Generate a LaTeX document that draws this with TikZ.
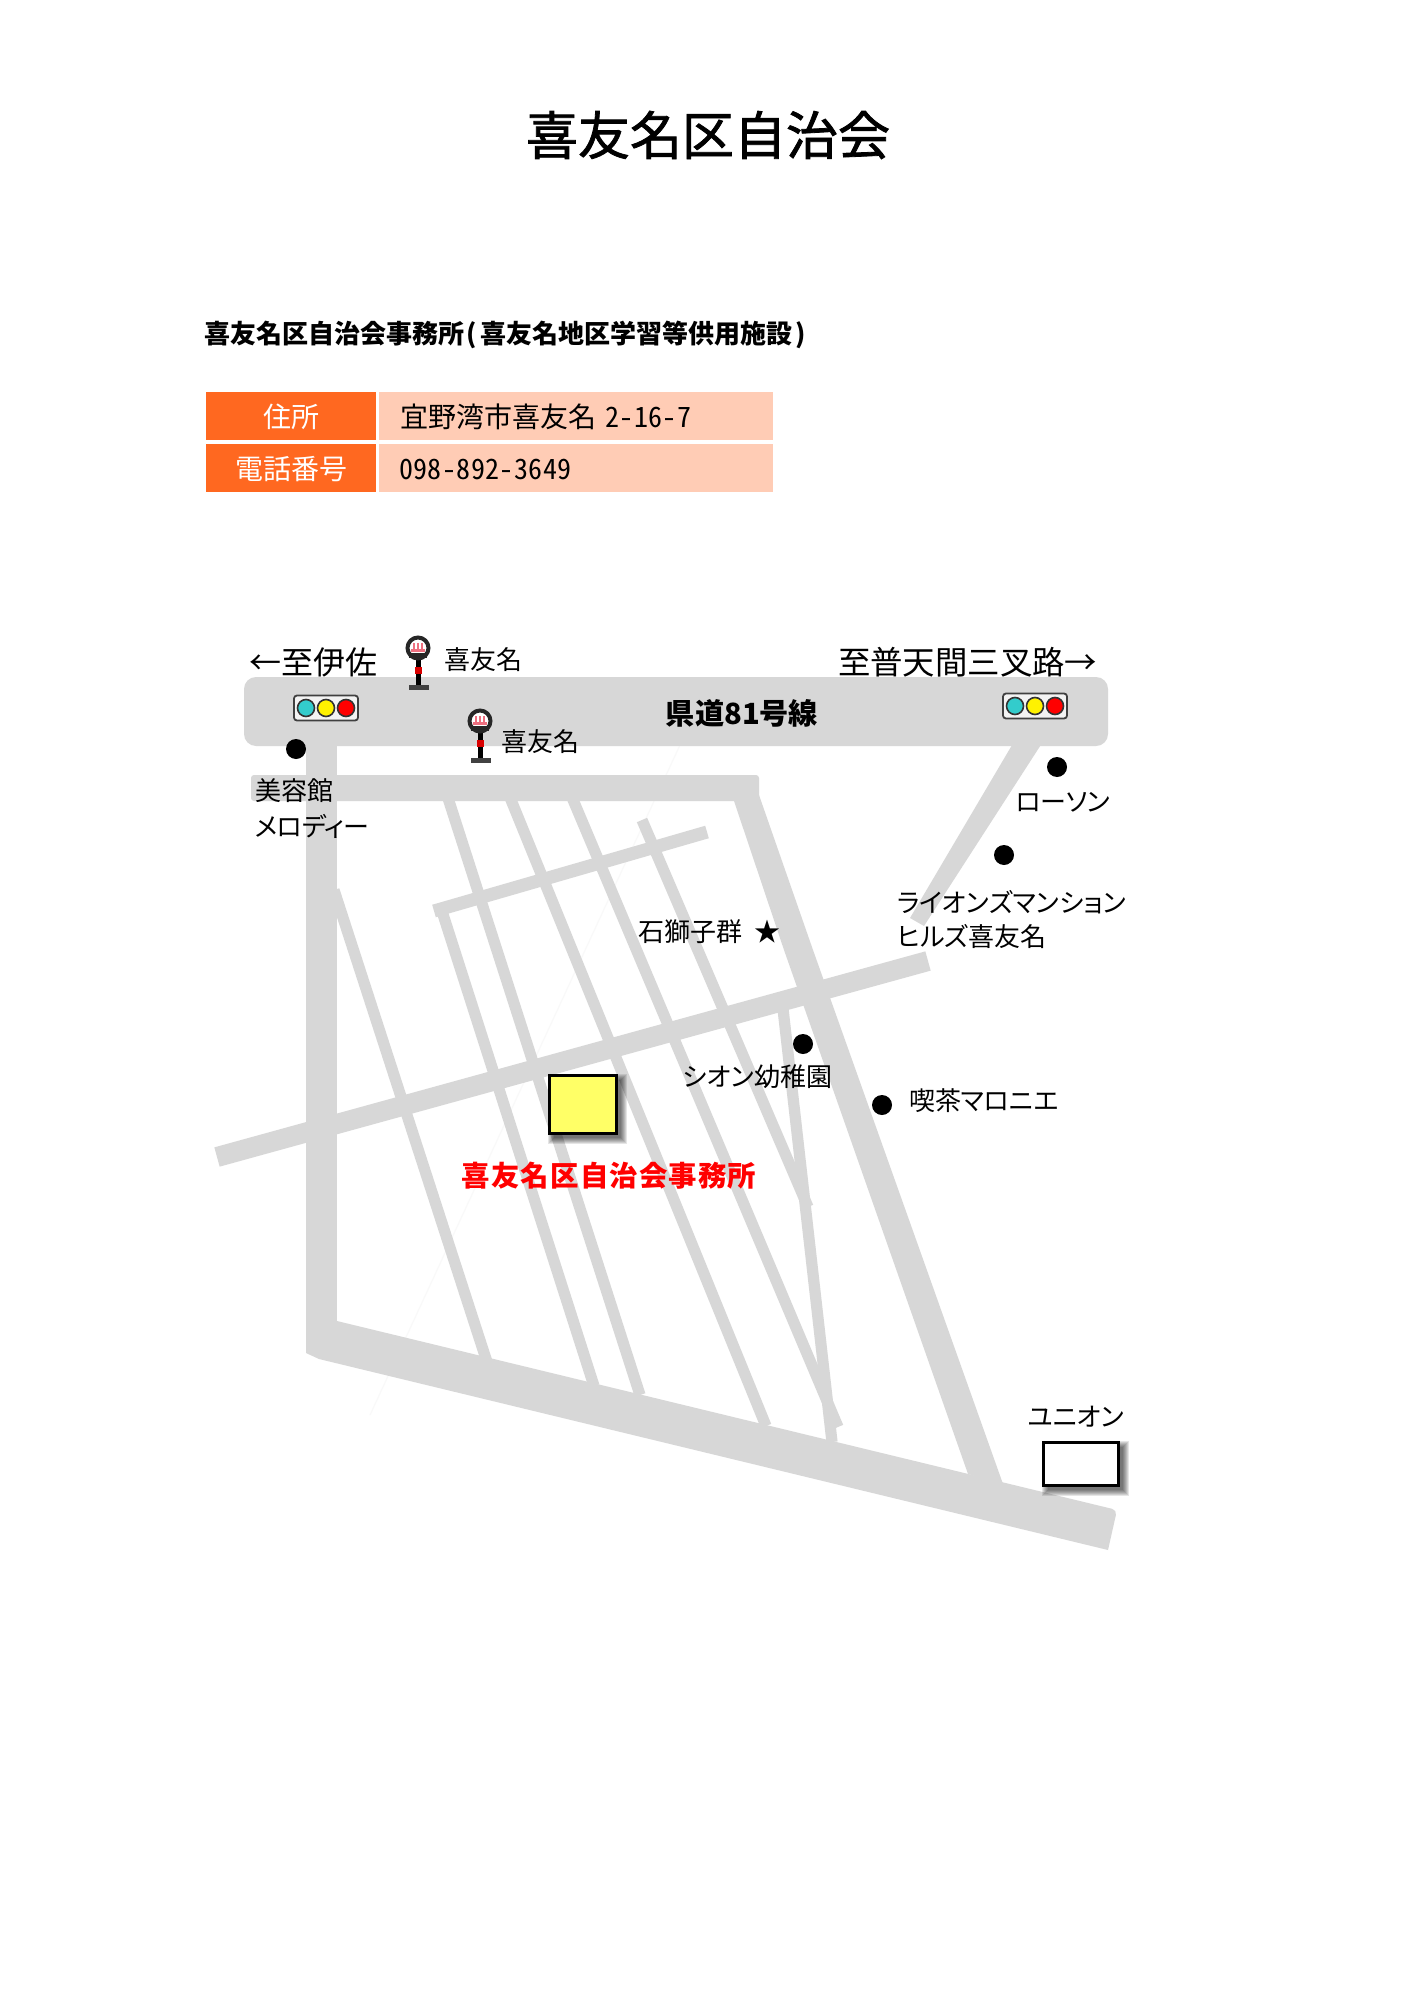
\documentclass[tikz,border=0pt]{standalone}
\usepackage{fontspec}
\setmainfont{Noto Sans CJK JP}
\newfontfamily\jpk[RawFeature=+palt]{Noto Sans CJK JP}
\newfontfamily\jpkn[RawFeature=+palt,LetterSpace=-2]{Noto Sans CJK JP}
\newfontfamily\jph[RawFeature=+hwid,LetterSpace=1.5]{Noto Sans CJK JP}
\newfontfamily\jptitle[FakeBold=1.5]{Noto Sans CJK JP}
\newfontfamily\jpred[LetterSpace=4]{Noto Sans CJK JP}
\usetikzlibrary{calc}
\definecolor{road}{HTML}{D7D7D7}
\definecolor{faint}{HTML}{F9F9F9}
\definecolor{headorange}{HTML}{FF6820}
\definecolor{peach}{HTML}{FFCCB5}
\definecolor{boxyellow}{HTML}{FFFF66}
\definecolor{sigteal}{HTML}{33CCCC}
\definecolor{pinkstripe}{HTML}{EE7080}
\tikzset{
  roadfill/.style={fill=road,draw=none},
  thinroad/.style={draw=road,line width=5.6,line cap=butt},
  midroad/.style={draw=road,line width=6.5,line cap=butt},
  lab/.style={inner sep=0pt,outer sep=0pt,anchor=west,font=\fontsize{13}{15}\selectfont\jpk},
  labn/.style={lab,font=\fontsize{13}{15}\selectfont\jpkn},
  place/.style={circle,fill=black,minimum size=10,inner sep=0pt,outer sep=0pt,draw=none},
  cell/.style={inner sep=0pt,outer sep=0pt,anchor=north west},
  pics/signalbox/.style={code={
    \draw[draw=black!75,line width=0.9,fill=white!70!road,rounded corners=1.5] (-32,-12.5) rectangle (32,12.5);
    \foreach \cx/\cc in {-20/sigteal,0/yellow,20/red}
      \draw[draw=black!80,line width=0.8,fill=\cc] (\cx,0) circle (8.5);
  }},
  pics/stopicon/.style={code={
    \draw[black,line width=2.5] (0,8) -- (0,38);
    \fill[black!70!road] (-9.5,37) rectangle (11,42);
    \fill[red!85!black] (-3.5,19) rectangle (3.5,26);
    \draw[black!85,line width=2,fill=white] (0,0) circle (10.5);
    \fill[black!85] (-9,5) rectangle (9,10);
    \foreach \sx in {-4,0,4} \fill[pinkstripe] (\sx-1,-5) rectangle (\sx+1,4);
    \fill[pinkstripe] (-7,1) rectangle (7,4);
  }},
  pics/softshadow/.style n args={2}{code={
    \foreach \g in {5,4,3,2,1,0,-1}
      \fill[black,opacity=0.10] (5-\g,5-\g) rectangle (#1+5+\g,#2+5+\g);
  }}
}
\begin{document}
\begin{tikzpicture}[x=0.5pt,y=-0.5pt]
\useasboundingbox (0,0) rectangle (1413,2000);
\fill[white] (0,0) rectangle (1413,2000);

% title and table
\node[inner sep=0pt,font=\fontsize{26}{30}\selectfont\jptitle] (title) at (708,135) {喜友名区自治会};
\node[lab,font=\fontsize{13}{15}\selectfont\bfseries] (subtitle) at (204,335) {喜友名区自治会事務所\hspace{1.5pt}(\hspace{1.5pt}喜友名地区学習等供用施設\hspace{1.5pt})};
\fill[headorange] (206,392) rectangle (376,440);
\fill[peach] (379,392) rectangle (773,440);
\fill[headorange] (206,444) rectangle (376,492);
\fill[peach] (379,444) rectangle (773,492);
\node[inner sep=0pt,text=white,font=\fontsize{14}{16}\selectfont] (addrh) at (291,417) {住所};
\node[inner sep=0pt,text=white,font=\fontsize{14}{16}\selectfont] (telh) at (291,469) {電話番号};
\node[lab,font=\fontsize{14}{16}\selectfont] (addr) at (400,417) {宜野湾市喜友名\hspace{1.5pt} {\jph 2-16-7}};
\node[lab,font=\fontsize{14}{16}\selectfont\jph] (tel) at (399,469) {098-892-3649};

% faint hairline
\draw[faint,line width=0.6] (680,745) -- (370,1415);

% roads
\fill[roadfill,rounded corners=6] (244,677) rectangle (1108,746);
\fill[roadfill] (306,740) rectangle (337,1340);
\fill[roadfill] (306,1340) -- (306,1353) -- (319,1359) -- (1108,1550) [rounded corners=2.5] -- (1117,1510) [sharp corners] -- (337,1321) -- (320,1330) -- cycle;
\fill[roadfill,rounded corners=1.5] (251,775) rectangle (759,801);
\fill[roadfill] (732,795) -- (759,795) -- (813,950) -- (1003,1484) -- (968,1474) -- (784,950) -- cycle;
\fill[roadfill] (1015,740) -- (1044,740) -- (924,926) -- (910,918) -- cycle;
\draw[road,line width=10] (217,1157) -- (928,961);
\draw[midroad] (434,911) -- (707,832);
\draw[thinroad] (334,890) -- (487,1362);
\draw[thinroad] (440,905) -- (594,1386);
\draw[thinroad] (447,795) -- (640,1395);
\draw[thinroad] (509,795) -- (766,1426);
\draw[thinroad] (571,795) -- (838,1427);
\draw[thinroad] (642,820) -- (808,1207);
\draw[thinroad] (782,1000) -- (832,1442);

% main road furniture
\pic at (326,708) {signalbox};
\pic at (1035,706) {signalbox};
\pic at (418,648) {stopicon};
\pic at (480,721) {stopicon};

\node[inner sep=0pt,font=\fontsize{14.6}{17}\selectfont\bfseries] (route) at (742,713) {県道{\bfseries 81}号線};
\node[lab,font=\fontsize{16}{18}\selectfont] (west) at (249,662) {←至伊佐};
\node[lab,font=\fontsize{16.2}{18}\selectfont] (east) at (838,662) {至普天間三叉路→};
\node[lab] (st1) at (444,660) {喜友名};
\node[lab] (st2) at (501,742) {喜友名};

% places
\node[place] (d1) at (296,749) {};
\node[place] (d2) at (1057,767) {};
\node[place] (d3) at (1004,855) {};
\node[place] (d4) at (803,1044) {};
\node[place] (d5) at (882,1105) {};
\node[lab] (l1a) at (255,791) {美容館};
\node[labn] (l1b) at (255,826) {メロディー};
\node[labn] (l2) at (1016,802) {ローソン};
\node[lab] (l3a) at (897,902) {ライオンズマンション};
\node[lab] (l3b) at (897,937) {ヒルズ喜友名};
\node[lab] (l4) at (638,932) {石獅子群};
\node[lab,font=\fontsize{13}{15}\selectfont] (star) at (754,932) {★};
\node[lab] (l5) at (683,1077) {シオン幼稚園};
\node[lab] (l6) at (909,1101) {喫茶マロニエ};
\node[lab] (l7) at (1028,1417) {ユニオン};

% office
\pic at (548,1074) {softshadow={69}{60}};
\node[cell,draw=black,line width=1.5,fill=boxyellow,minimum width=33.5,minimum height=29] (office) at (549,1075) {};
\node[inner sep=0pt,text=red,font=\fontsize{14.2}{17}\selectfont\jpred\bfseries] (officelabel) at (609,1176) {喜友名区自治会事務所};

% union
\pic at (1042,1441) {softshadow={77}{45}};
\node[cell,draw=black,line width=1.5,fill=white,minimum width=37.5,minimum height=21.5] (union) at (1043,1442) {};
\end{tikzpicture}
\end{document}
